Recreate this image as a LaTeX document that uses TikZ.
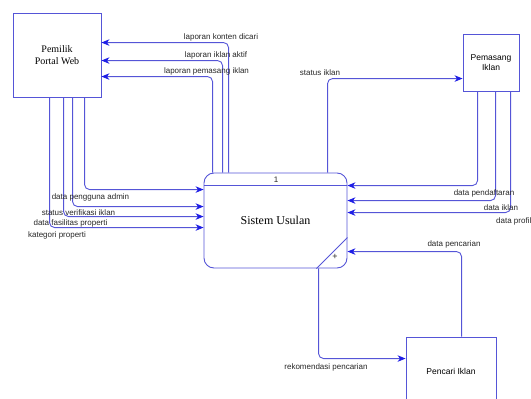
\documentclass[tikz,border=0pt]{standalone}
\usepackage{fontspec}
\setmainfont{Liberation Sans}
\newfontfamily\boxserif{Liberation Serif}
\usepackage{xcolor}
\usepackage{tikz}
\usetikzlibrary{arrows.meta,positioning}

\definecolor{dfdline}{RGB}{85,85,215}
\definecolor{dfdtip}{RGB}{30,30,230}

\begin{document}
\begin{tikzpicture}[x=1pt, y=-1pt,
    entity/.style={draw, color=dfdline, text=black, line width=0.9pt, rectangle, align=center, inner sep=0pt},
    flow/.style={draw=dfdline, line width=0.9pt, rounded corners=5pt,
      -{Stealth[length=8pt,width=6.5pt,inset=2.5pt,color=dfdtip]}},
    lbl/.style={font=\fontsize{8}{9}\selectfont, text=black!85, inner sep=0pt}]
  \useasboundingbox (0,0) rectangle (531,399);

  \node[entity, minimum width=88pt, minimum height=84pt, font=\boxserif\fontsize{10}{11.5}\selectfont]
    (pemilik) at (57,55) {Pemilik\\Portal Web};
  \node[entity, minimum width=143pt, minimum height=95pt, rounded corners=10pt,
    font=\boxserif\fontsize{12}{14}\selectfont] (sys) at (275.5,220.5) {Sistem Usulan};
  \node[entity, minimum width=56pt, minimum height=57pt, font=\fontsize{8.5}{10}\selectfont]
    (pemasang) at (491,62.5) {Pemasang\\Iklan};
  \node[entity, minimum width=90pt, minimum height=68pt, font=\fontsize{8.5}{10}\selectfont]
    (pencari) at (451,371) {Pencari Iklan};

  \draw[dfdline, line width=0.9pt] ([yshift=-13pt]sys.north west) -- ([yshift=-13pt]sys.north east);
  \draw[dfdline, line width=0.9pt] ([xshift=-31pt]sys.south east) -- ([yshift=31pt]sys.south east);
  \node[lbl] (nomor) at (276,180) {1};
  \node[lbl, font=\fontsize{9}{10}\selectfont] (plus) at (335,257) {+};

  \foreach \dx/\dy in {25/30, 19/48, 9/64}
    \draw[flow] ([xshift=\dx pt]sys.north west) |- ([yshift=-\dy pt]pemilik.north east);
  \foreach \dx/\dy in {72/17, 60/34, 51/44, 37/55}
    \draw[flow] ([xshift=\dx pt]pemilik.south west) |- ([yshift=-\dy pt]sys.north west);
  \foreach \dx/\dy in {15/13, 33/28, 48/40}
    \draw[flow] ([xshift=\dx pt]pemasang.south west) |- ([yshift=-\dy pt]sys.north east);
  \draw[flow] ([xshift=124pt]sys.north west) |- ([yshift=-45pt]pemasang.north west);
  \draw[flow] ([xshift=56pt]pencari.north west) |- ([yshift=-79pt]sys.north east);
  \draw[flow] ([xshift=115pt]sys.south west) |- ([yshift=-22pt]pencari.north west);

  \node[lbl] (lkonten) at (221,37) {laporan konten dicari};
  \node[lbl] (laktif) at (216,55) {laporan iklan aktif};
  \node[lbl] (lpemasang) at (206.5,71) {laporan pemasang iklan};
  \node[lbl] (lstatus) at (320,73) {status iklan};
  \node[lbl] (ladmin) at (90.5,197) {data pengguna admin};
  \node[lbl] (lverif) at (78.5,213) {status verifikasi iklan};
  \node[lbl] (lfasil) at (70.5,223) {data fasilitas properti};
  \node[lbl] (lkateg) at (57,235) {kategori properti};
  \node[lbl] (ldaftar) at (484,193) {data pendaftaran};
  \node[lbl] (liklan) at (501,208) {data iklan};
  \node[lbl, anchor=west] (lprofil) at (496,221) {data profil};
  \node[lbl] (lcari) at (454,244) {data pencarian};
  \node[lbl] (lrekom) at (326,367) {rekomendasi pencarian};
\end{tikzpicture}
\end{document}
